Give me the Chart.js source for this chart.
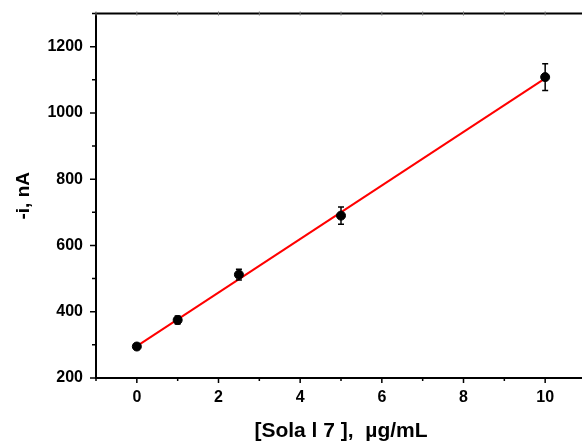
<!DOCTYPE html>
<html>
<head>
<meta charset="utf-8">
<script src="https://cdn.jsdelivr.net/npm/chart.js@4.4.1/dist/chart.umd.min.js"></script>
<style>
    html, body { margin: 0; padding: 0; background: #fff; overflow: hidden; }
    #wrap { width: 582px; height: 446px; overflow: hidden; }
    canvas { display: block; }
</style>
</head>
<body>
<div id="wrap">
    <canvas id="calChart" width="592" height="446"></canvas>
</div>
<script>
// Calibration data
const concValues = [0, 1, 2.5, 5, 10];
const currentValues = [295, 375, 512, 690, 1108];
const errorValues = [8, 12, 16, 26, 40];

// Linear fit end points
const fitX = [0, 10];
const fitY = [296, 1104];

// Tick values
const xMajorTicks = [0, 2, 4, 6, 8, 10];
const xMinorTicks = [-1, 1, 3, 5, 7, 9, 11];
const yMajorTicks = [200, 400, 600, 800, 1000, 1200];
const yMinorTicks = [300, 500, 700, 900, 1100, 1300];

const labelFont = { family: "'Liberation Sans', Arial, sans-serif", size: 16, weight: 'bold' };

// Draw frame, tick marks and error bars
const framePlugin = {
    id: 'framePlugin',
    afterDatasetsDraw(chart) {
        const { ctx, chartArea, scales } = chart;
        const xs = scales.x;
        const ys = scales.y;

        ctx.save();

        // error bars
        ctx.strokeStyle = '#000';
        ctx.lineWidth = 1.5;
        concValues.forEach((c, i) => {
            const px = xs.getPixelForValue(c);
            const top = ys.getPixelForValue(currentValues[i] + errorValues[i]);
            const bot = ys.getPixelForValue(currentValues[i] - errorValues[i]);
            ctx.beginPath();
            ctx.moveTo(px, top);
            ctx.lineTo(px, bot);
            ctx.moveTo(px - 3, top);
            ctx.lineTo(px + 3, top);
            ctx.moveTo(px - 3, bot);
            ctx.lineTo(px + 3, bot);
            ctx.stroke();
        });

        // axis frame
        ctx.lineWidth = 2;
        ctx.beginPath();
        ctx.moveTo(chartArea.right, chartArea.top);
        ctx.lineTo(chartArea.left, chartArea.top);
        ctx.lineTo(chartArea.left, chartArea.bottom);
        ctx.lineTo(chartArea.right, chartArea.bottom);
        ctx.lineTo(chartArea.right, chartArea.top);
        ctx.stroke();

        // tick marks
        ctx.lineWidth = 1.5;
        ctx.beginPath();
        xMajorTicks.forEach(v => {
            const p = xs.getPixelForValue(v);
            ctx.moveTo(p, chartArea.bottom);
            ctx.lineTo(p, chartArea.bottom + 5);
        });
        xMinorTicks.forEach(v => {
            const p = xs.getPixelForValue(v);
            ctx.moveTo(p, chartArea.bottom);
            ctx.lineTo(p, chartArea.bottom + 3);
        });
        yMajorTicks.forEach(v => {
            const p = ys.getPixelForValue(v);
            ctx.moveTo(chartArea.left, p);
            ctx.lineTo(chartArea.left - 6, p);
        });
        yMinorTicks.forEach(v => {
            const p = ys.getPixelForValue(v);
            ctx.moveTo(chartArea.left, p);
            ctx.lineTo(chartArea.left - 4, p);
        });
        ctx.stroke();

        // faint ticks on the top axis
        ctx.strokeStyle = '#777';
        ctx.lineWidth = 1;
        ctx.beginPath();
        xMajorTicks.concat(xMinorTicks).forEach(v => {
            const p = xs.getPixelForValue(v);
            ctx.moveTo(p, chartArea.top - 2);
            ctx.lineTo(p, chartArea.top + 2);
        });
        ctx.stroke();

        ctx.restore();
    }
};

const ctx = document.getElementById('calChart');

new Chart(ctx, {
    type: 'scatter',
    data: {
        datasets: [
            {
                label: 'measured',
                data: concValues.map((c, i) => ({ x: c, y: currentValues[i] })),
                backgroundColor: '#000',
                borderColor: '#000',
                pointRadius: 4.5,
                pointHoverRadius: 4.5
            },
            {
                label: 'fit',
                data: fitX.map((c, i) => ({ x: c, y: fitY[i] })),
                showLine: true,
                borderColor: '#ff0000',
                borderWidth: 2,
                pointRadius: 0,
                fill: false
            }
        ]
    },
    options: {
        responsive: false,
        animation: false,
        layout: {
            padding: { top: 13.5, right: 6, left: 0, bottom: 0 }
        },
        plugins: {
            legend: { display: false },
            tooltip: { enabled: false }
        },
        scales: {
            x: {
                type: 'linear',
                min: -1,
                max: 11,
                afterBuildTicks: scale => {
                    scale.ticks = xMajorTicks.map(v => ({ value: v }));
                },
                afterFit: scale => {
                    scale.height = 68;
                    scale.paddingLeft = 0;
                    scale.paddingRight = 0;
                },
                grid: { display: false, drawTicks: false },
                border: { display: false },
                ticks: {
                    autoSkip: false,
                    color: '#000',
                    font: labelFont,
                    padding: 10,
                    maxRotation: 0,
                    callback: v => String(v)
                },
                title: {
                    display: true,
                    text: '[Sola l 7 ],  µg/mL',
                    color: '#000',
                    font: { family: "'Liberation Sans', Arial, sans-serif", size: 21, weight: 'bold' },
                    padding: { top: 0, bottom: 2 }
                }
            },
            y: {
                type: 'linear',
                min: 200,
                max: 1300,
                afterBuildTicks: scale => {
                    scale.ticks = yMajorTicks.map(v => ({ value: v }));
                },
                afterFit: scale => {
                    scale.width = 96;
                    scale.paddingTop = 0;
                    scale.paddingBottom = 0;
                },
                grid: { display: false, drawTicks: false },
                border: { display: false },
                ticks: {
                    autoSkip: false,
                    color: '#000',
                    font: labelFont,
                    padding: 13,
                    callback: v => String(v)
                },
                title: {
                    display: true,
                    text: '-i, nA',
                    color: '#000',
                    font: { family: "'Liberation Sans', Arial, sans-serif", size: 19, weight: 'bold' },
                    padding: { top: 12, bottom: 0 }
                }
            }
        }
    },
    plugins: [framePlugin]
});
</script>
</body>
</html>
